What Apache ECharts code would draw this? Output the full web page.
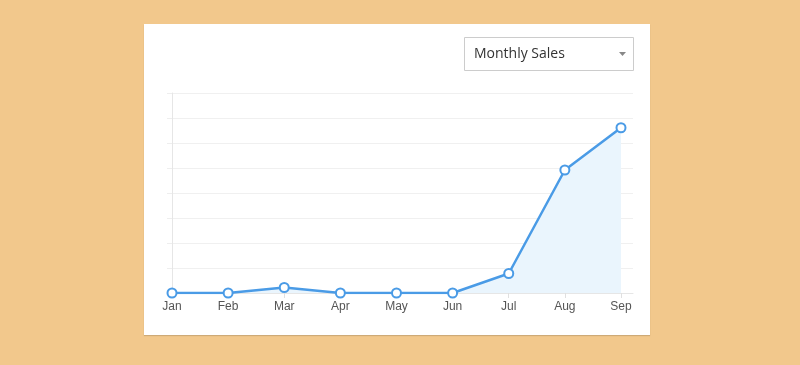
<!DOCTYPE html>
<html>
<head>
<meta charset="utf-8">
<script src="https://cdn.jsdelivr.net/npm/echarts@6/dist/echarts.min.js"></script>
<style>
html,body{margin:0;padding:0;background:#F2C88C;}
#c{width:800px;height:365px;}
</style>
</head>
<body>
<div id="c"></div>
<script>
var categories = ['Jan','Feb','Mar','Apr','May','Jun','Jul','Aug','Sep'];
var salesValues = [0, 0, 22, 0, 0, 0, 78, 492, 661];
var dropdownLabel = 'Monthly Sales';

var chart = echarts.init(document.getElementById('c'), null, {renderer: 'canvas'});
var idx = categories.map(function(_, i){ return i; });
var points = salesValues.map(function(v, i){ return [i, v]; });

chart.setOption({
  backgroundColor: '#F2C88C',
  animation: false,
  graphic: [
    {type:'rect', shape:{x:144, y:24, width:506, height:311}, style:{fill:'#ffffff', shadowBlur:1, shadowColor:'rgba(0,0,0,0.15)', shadowOffsetY:1}, z:-10},
    {type:'rect', shape:{x:464.5, y:37.5, width:169, height:33}, style:{fill:'#ffffff', stroke:'#cccccc', lineWidth:1}, z:10},
    {type:'text', x:474, y:54, style:{text:dropdownLabel, font:'14px "Open Sans", sans-serif', fill:'#333333', verticalAlign:'middle'}, z:11},
    {type:'polygon', shape:{points:[[619,52],[626,52],[622.5,56]]}, style:{fill:'#888888'}, z:11}
  ],
  grid: {left:172, right:167, top:93, bottom:72, containLabel:false},
  xAxis: {
    type:'value', min:0, max:8.214, interval:1,
    axisLine:{show:true, lineStyle:{color:'#e6e6e6', width:1}},
    axisTick:{show:true, length:5, lineStyle:{color:'#e0e0e0'}, customValues: idx},
    axisLabel:{color:'#555555', fontSize:12, fontFamily:'"Liberation Sans", Arial, sans-serif', margin:8,
      customValues: idx,
      formatter:function(v){ return categories[Math.round(v)] || ''; }},
    splitLine:{show:false}
  },
  yAxis: {
    type:'value', min:0, max:800, interval:100,
    axisLine:{show:true, lineStyle:{color:'#e6e6e6', width:1}},
    axisTick:{show:true, length:5, lineStyle:{color:'#eeeeee'}},
    axisLabel:{show:false},
    splitLine:{show:true, lineStyle:{color:'#f0f0f0', width:1}}
  },
  series: [{
    type:'line', data: points,
    lineStyle:{color:'#4A9BE6', width:2.5},
    itemStyle:{color:'#ffffff', borderColor:'#4A9BE6', borderWidth:2},
    symbol:'circle', symbolSize:9,
    areaStyle:{color:'#EAF5FD', opacity:1},
    z:5
  }]
});
</script>
</body>
</html>
